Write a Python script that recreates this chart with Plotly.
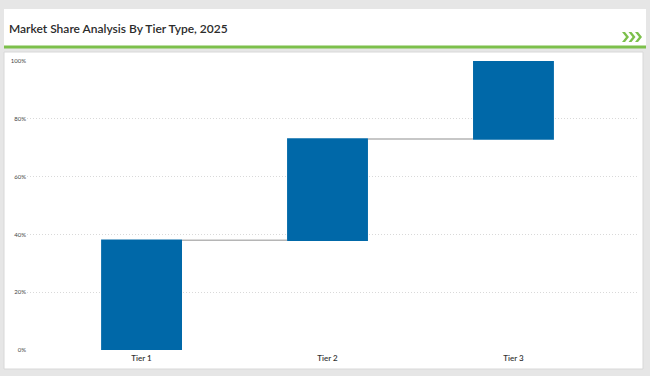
import plotly.graph_objects as go

categories = ["Tier 1", "Tier 2", "Tier 3"]
shares = [0.38, 0.35, 0.27]
tick_vals = [0, 0.2, 0.4, 0.6, 0.8, 1.0]
tick_text = ["0%", "20%", "40%", "60%", "80%", "100%"]
title_text = "Market Share Analysis By Tier Type, 2025"

W, H = 650, 376
L, R, T, B = 27, 639, 61, 350  # plot area in pixels

def px(x):
    return (x - L) / (R - L)

def py(y):
    return (B - y) / (B - T)

fig = go.Figure(go.Waterfall(
    x=categories,
    y=shares,
    measure=["relative", "relative", "relative"],
    increasing=dict(marker=dict(color="#0068a8", line=dict(width=0))),
    connector=dict(line=dict(color="#b5b5b5", width=1.5), mode="between"),
    width=0.435,
    hoverinfo="skip",
))

shapes = [
    # title panel
    dict(type="rect", xref="paper", yref="paper", x0=px(4), x1=px(646), y0=py(47), y1=py(9),
         fillcolor="white", line=dict(width=0), layer="below"),
    # green rule
    dict(type="rect", xref="paper", yref="paper", x0=px(4), x1=px(646), y0=py(48.5), y1=py(45.5),
         fillcolor="#7cc04b", line=dict(width=0), layer="below"),
    # chart panel
    dict(type="rect", xref="paper", yref="paper", x0=px(4), x1=px(643), y0=py(369), y1=py(52),
         fillcolor="white", line=dict(color="#d8d8d8", width=1), layer="below"),
]

# green chevrons decoration
for cx in (622, 628.5, 635):
    pts = [(cx, 32), (cx + 3, 32), (cx + 7, 37), (cx + 3, 42), (cx, 42), (cx + 4, 37)]
    path = "M " + " L ".join(f"{px(a)},{py(b)}" for a, b in pts) + " Z"
    shapes.append(dict(type="path", xref="paper", yref="paper", path=path,
                       fillcolor="#7cc04b", line=dict(width=0), layer="above"))

annotations = [
    dict(text=title_text, xref="paper", yref="paper", x=px(7), y=py(28), xanchor="left",
         yanchor="middle", showarrow=False,
         font=dict(family="Lato", size=12, color="#2b2b2b", weight=600)),
]

fig.update_layout(
    width=W, height=H,
    margin=dict(l=L, r=W - R, t=T, b=H - B),
    paper_bgcolor="#e6e6e6",
    plot_bgcolor="rgba(0,0,0,0)",
    showlegend=False,
    shapes=shapes,
    annotations=annotations,
    xaxis=dict(
        type="category",
        range=[-0.616, 2.675],
        showgrid=False, zeroline=False, showline=False,
        ticks="",
        ticklabelstandoff=2,
        tickfont=dict(family="Lato", size=8, color="#333333", weight=600),
        fixedrange=True,
    ),
    yaxis=dict(
        range=[0, 1.0],
        tickvals=tick_vals,
        ticktext=tick_text,
        showgrid=True, gridcolor="#d9d9d9", griddash="1px,2px", gridwidth=1,
        zeroline=False, showline=False,
        ticks="",
        tickfont=dict(family="Lato", size=6, color="#444444"),
        fixedrange=True,
    ),
)

fig.write_html("out.html", config={"displayModeBar": False},
               post_script="document.body.style.margin='0';document.body.style.overflow='hidden';")
